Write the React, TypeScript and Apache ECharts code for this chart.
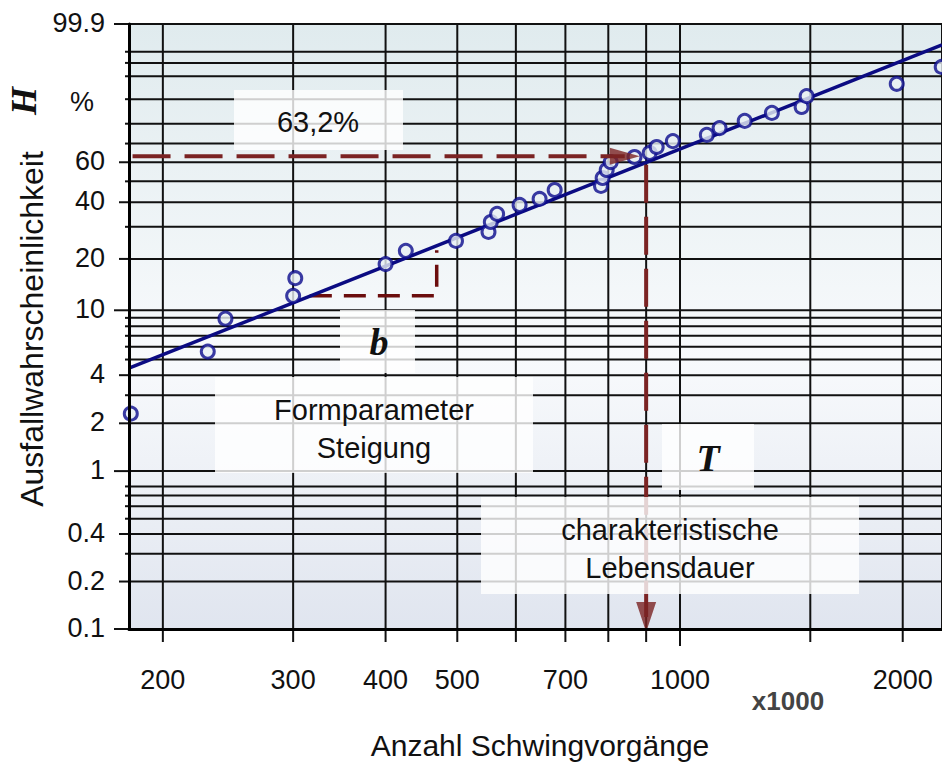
import { useEffect, useRef } from 'react';
import * as echarts from 'echarts';

// ---- data ----
const cycles = [181, 230, 243, 300, 302, 400, 426, 498, 551, 555, 566, 607, 646, 677, 782, 786, 796, 806, 868, 910, 930, 978, 1087, 1131, 1223, 1331, 1460, 1483, 1963, 2258];
const failurePct = [2.3, 5.6, 8.9, 12.2, 15.5, 18.7, 22.2, 25.2, 28.2, 31.8, 35.0, 38.8, 41.5, 45.7, 47.7, 51.7, 55.9, 60.1, 62.8, 65.0, 68.2, 71.3, 74.5, 77.9, 81.3, 84.8, 87.2, 91.0, 94.4, 97.5];

const fitCycles = [180, 2260];
const fitPct = [4.43, 99.38];

const xGridValues = [200, 300, 400, 500, 600, 700, 800, 900, 1000, 1500, 2000];
const xTickLabels = ['200', '300', '400', '500', '', '700', '', '', '1000', '', '2000'];

const yGridPct = [99.9, 99, 98, 96, 90, 80, 70, 60, 50, 40, 30, 20, 10, 9, 8, 7, 6, 5, 4, 3, 2, 1, 0.8, 0.7, 0.6, 0.5, 0.4, 0.3, 0.2, 0.1];
const yTickLabels = ['99.9', '', '', '', '', '', '', '60', '', '40', '', '20', '10', '', '', '', '', '', '4', '', '2', '1', '', '', '', '', '0.4', '', '0.2', '0.1'];
const yDecadePct = [99.9, 10, 1, 0.1];

const charLifePct = 63.2;
const charLifeCycles = 900;
const hLineCycles = [182, 842];
const vLinePct = [58.6, 0.119];
const slopeCycles = [316, 469, 469];
const slopePct = [12.2, 12.2, 22.4];

const X_MIN = 180;
const X_MAX = 2260;
const P_MIN = 0.1;
const P_MAX = 99.9;

const weib = (p: number) => Math.log(-Math.log(1 - p / 100));

const SANS = '"Liberation Sans", Arial, Helvetica, sans-serif';
const SERIF = '"Liberation Serif", "Times New Roman", serif';
const GRID_COLOR = '#111';
const RED = '#7B2323';

export default function App() {
  const ref = useRef<HTMLDivElement>(null);

  useEffect(() => {
    document.body.style.margin = '0';
    if (!ref.current) return;
    const chart = echarts.init(ref.current, undefined, { renderer: 'svg' });

    const bg = new echarts.graphic.LinearGradient(0, 0, 0, 1, [
      { offset: 0, color: '#E0EBEE' },
      { offset: 0.55, color: '#F8FAFC' },
      { offset: 1, color: '#E0E5EF' },
    ]);

    const textStyle = (text: string, font: string, align: string, vAlign: string, fill = '#111') => ({
      text,
      font,
      fill,
      align,
      verticalAlign: vAlign,
      textAlign: align,
      textVerticalAlign: vAlign,
    });

    const option: any = {
      animation: false,
      grid: {
        left: 129,
        right: 0,
        top: 24,
        bottom: 133,
        show: true,
        backgroundColor: bg,
        borderColor: '#111',
        borderWidth: 2,
      },
      xAxis: {
        type: 'log',
        logBase: 10,
        min: X_MIN,
        max: X_MAX,
        axisLabel: { show: false },
        axisTick: { show: false },
        splitLine: { show: false },
        axisLine: { show: true, onZero: false, lineStyle: { color: '#000', width: 3 } },
        z: 8,
      },
      yAxis: {
        type: 'value',
        min: weib(P_MIN),
        max: weib(P_MAX),
        axisLabel: { show: false },
        axisTick: { show: false },
        splitLine: { show: false },
        axisLine: { show: true, onZero: false, lineStyle: { color: '#000', width: 3 } },
        z: 8,
      },
      series: [
        {
          type: 'custom',
          silent: true,
          clip: false,
          z: 1,
          data: xGridValues.map((v) => [v, weib(P_MIN)]),
          renderItem: (params: any, api: any) => {
            const v = api.value(0);
            const top = api.coord([v, weib(P_MAX)]);
            const bot = api.coord([v, weib(P_MIN)]);
            const label = xTickLabels[params.dataIndex];
            const tickLen = v === 1000 ? 17 : 13;
            const children: any[] = [
              { type: 'line', shape: { x1: top[0], y1: top[1], x2: bot[0], y2: bot[1] }, style: { stroke: GRID_COLOR, lineWidth: 2 } },
              { type: 'line', shape: { x1: bot[0], y1: bot[1], x2: bot[0], y2: bot[1] + tickLen }, style: { stroke: GRID_COLOR, lineWidth: 2 } },
            ];
            if (label) {
              children.push({
                type: 'text',
                x: bot[0],
                y: bot[1] + 51,
                style: textStyle(label, `27px ${SANS}`, 'center', 'middle'),
              });
            }
            return { type: 'group', children };
          },
        },
        {
          type: 'custom',
          silent: true,
          clip: false,
          z: 1,
          data: yGridPct.map((p) => [X_MIN, weib(p)]),
          renderItem: (params: any, api: any) => {
            const p = yGridPct[params.dataIndex];
            const w = weib(p);
            const left = api.coord([X_MIN, w]);
            const right = api.coord([X_MAX, w]);
            const label = yTickLabels[params.dataIndex];
            const tickLen = yDecadePct.includes(p) ? 15 : label ? 10 : 4;
            const children: any[] = [
              { type: 'line', shape: { x1: left[0], y1: left[1], x2: right[0], y2: right[1] }, style: { stroke: GRID_COLOR, lineWidth: 2 } },
              { type: 'line', shape: { x1: left[0] - tickLen, y1: left[1], x2: left[0], y2: left[1] }, style: { stroke: GRID_COLOR, lineWidth: 2 } },
            ];
            if (label) {
              children.push({
                type: 'text',
                x: left[0] - 24,
                y: left[1] - 1,
                style: textStyle(label, `27px ${SANS}`, 'right', 'middle'),
              });
            }
            return { type: 'group', children };
          },
        },
        {
          type: 'line',
          silent: true,
          z: 4,
          symbol: 'none',
          data: fitCycles.map((c, i) => [c, weib(fitPct[i])]),
          lineStyle: { color: '#0B0B82', width: 3.5 },
        },
        {
          type: 'line',
          silent: true,
          z: 3,
          symbol: 'none',
          data: slopeCycles.map((c, i) => [c, weib(slopePct[i])]),
          lineStyle: { color: '#6B0D0D', width: 3.5, type: [22, 12] },
        },
        {
          type: 'scatter',
          silent: true,
          z: 5,
          symbol: 'circle',
          symbolSize: 13,
          data: cycles.map((c, i) => [c, weib(failurePct[i])]),
          itemStyle: { color: '#E8F0F4', borderColor: '#0A0A8C', borderWidth: 3 },
        },
        {
          type: 'line',
          silent: true,
          z: 6,
          symbol: 'none',
          data: hLineCycles.map((c) => [c, weib(charLifePct)]),
          lineStyle: { color: RED, width: 4, type: [38, 14] },
        },
        {
          type: 'line',
          silent: true,
          z: 6,
          symbol: 'none',
          data: vLinePct.map((p) => [charLifeCycles, weib(p)]),
          lineStyle: { color: RED, width: 4, type: [38, 14] },
        },
        {
          type: 'scatter',
          silent: true,
          z: 7,
          symbol: 'triangle',
          symbolSize: [17, 30],
          symbolRotate: -90,
          data: [[hLineCycles[1], weib(charLifePct)]],
          itemStyle: { color: RED },
        },
        {
          type: 'scatter',
          silent: true,
          z: 7,
          symbol: 'triangle',
          symbolSize: [20, 30],
          symbolRotate: 180,
          data: [[charLifeCycles, weib(vLinePct[1])]],
          itemStyle: { color: RED },
        },
      ],
      graphic: [
        // axis titles
        {
          type: 'text', z: 100, x: 32, y: 329, rotation: Math.PI / 2,
          style: textStyle('Ausfallwahrscheinlichkeit', `32px ${SANS}`, 'center', 'middle'),
        },
        {
          type: 'text', z: 100, x: 24, y: 101, rotation: Math.PI / 2,
          style: textStyle('H', `bold italic 36px ${SERIF}`, 'center', 'middle'),
        },
        {
          type: 'text', z: 100, x: 82, y: 102,
          style: textStyle('%', `27px ${SANS}`, 'center', 'middle'),
        },
        {
          type: 'text', z: 100, x: 540, y: 745,
          style: textStyle('Anzahl Schwingvorgänge', `30px ${SANS}`, 'center', 'middle'),
        },
        {
          type: 'text', z: 100, x: 788, y: 701,
          style: textStyle('x1000', `bold 26px ${SANS}`, 'center', 'middle', '#444'),
        },
        // annotation boxes
        { type: 'rect', z: 90, shape: { x: 234, y: 90, width: 169, height: 60 }, style: { fill: 'rgba(255,255,255,0.8)' } },
        { type: 'text', z: 100, x: 318, y: 122, style: textStyle('63,2%', `29px ${SANS}`, 'center', 'middle') },
        { type: 'rect', z: 90, shape: { x: 340, y: 310, width: 75, height: 63 }, style: { fill: 'rgba(255,255,255,0.8)' } },
        { type: 'text', z: 100, x: 379, y: 342, style: textStyle('b', `bold italic 38px ${SERIF}`, 'center', 'middle') },
        { type: 'rect', z: 90, shape: { x: 215, y: 377, width: 318, height: 96 }, style: { fill: 'rgba(255,255,255,0.8)' } },
        { type: 'text', z: 100, x: 374, y: 410, style: textStyle('Formparameter', `29px ${SANS}`, 'center', 'middle') },
        { type: 'text', z: 100, x: 374, y: 448, style: textStyle('Steigung', `29px ${SANS}`, 'center', 'middle') },
        { type: 'rect', z: 90, shape: { x: 662, y: 424, width: 92, height: 66 }, style: { fill: 'rgba(255,255,255,0.8)' } },
        { type: 'text', z: 100, x: 708, y: 458, style: textStyle('T', `bold italic 38px ${SERIF}`, 'center', 'middle') },
        { type: 'rect', z: 90, shape: { x: 481, y: 497, width: 378, height: 97 }, style: { fill: 'rgba(255,255,255,0.8)' } },
        { type: 'text', z: 100, x: 670, y: 530, style: textStyle('charakteristische', `29px ${SANS}`, 'center', 'middle') },
        { type: 'text', z: 100, x: 670, y: 568, style: textStyle('Lebensdauer', `29px ${SANS}`, 'center', 'middle') },
      ],
    };

    chart.setOption(option);
    return () => chart.dispose();
  }, []);

  return <div ref={ref} style={{ width: 942, height: 762 }} />;
}
